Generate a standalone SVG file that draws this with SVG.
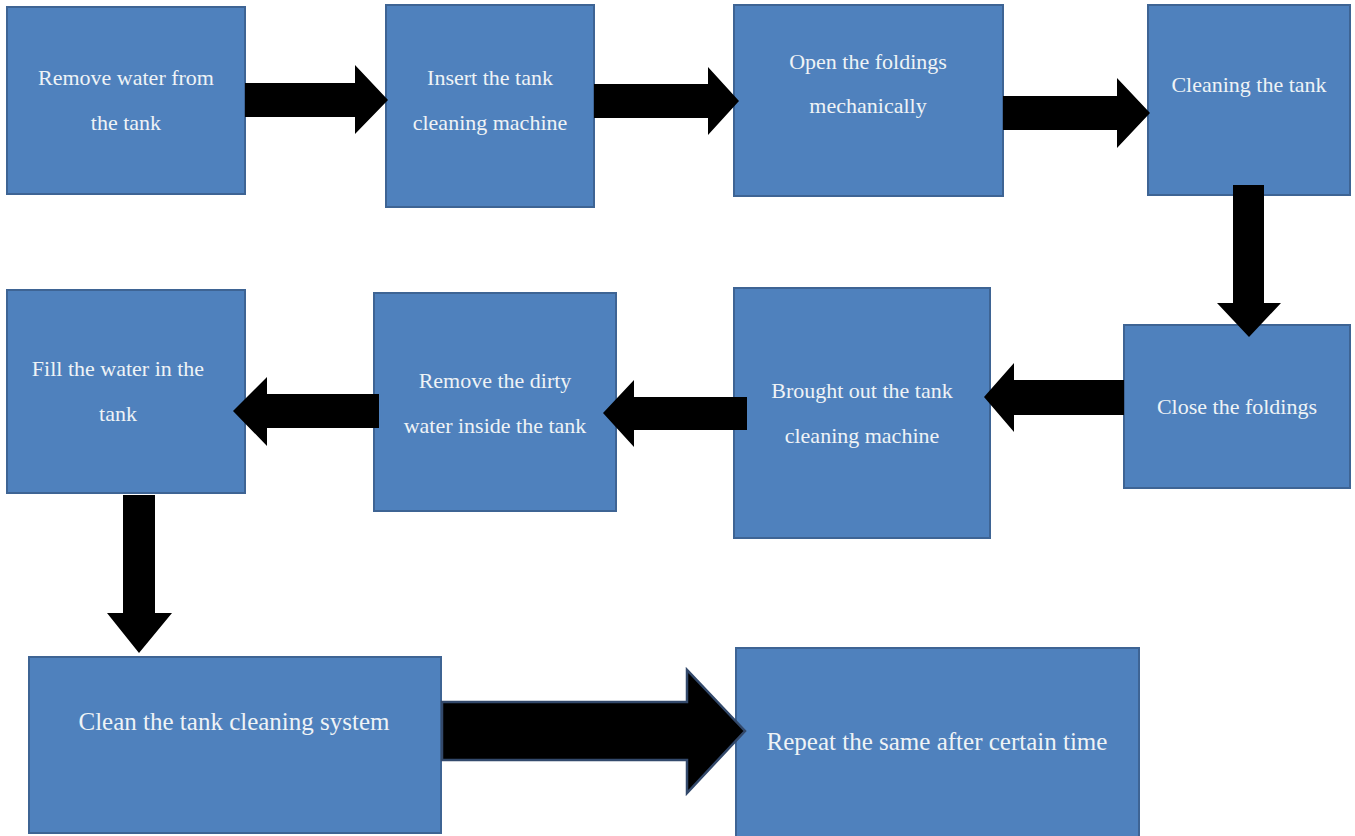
<svg xmlns="http://www.w3.org/2000/svg" width="1355" height="836" viewBox="0 0 1355 836">
<defs>
<style>
.box{fill:#4f81bd;stroke:#3e6494;stroke-width:2}
.t{font-family:"Liberation Serif","Times New Roman",serif;font-size:22px;fill:#eef3f6;text-anchor:middle}
.tb{font-size:25px}
.arr{fill:#000}
.arrb{fill:#000;stroke:#33496b;stroke-width:2.5;stroke-linejoin:miter}
</style>
</defs>
<rect width="1355" height="836" fill="#ffffff"/>
<g id="n1"><rect class="box" x="7" y="7" width="238" height="187"/><text class="t" x="126" y="85">Remove water from</text><text class="t" x="126" y="130">the tank</text></g>
<g id="n2"><rect class="box" x="386" y="5" width="208" height="202"/><text class="t" x="490" y="85">Insert the tank</text><text class="t" x="490" y="130">cleaning machine</text></g>
<g id="n3"><rect class="box" x="734" y="5" width="269" height="191"/><text class="t" x="868" y="69">Open the foldings</text><text class="t" x="868" y="113">mechanically</text></g>
<g id="n4"><rect class="box" x="1148" y="5" width="202" height="190"/><text class="t" x="1249" y="92">Cleaning the tank</text></g>
<g id="n5"><rect class="box" x="1124" y="325" width="226" height="163"/><text class="t" x="1237" y="414">Close the foldings</text></g>
<g id="n6"><rect class="box" x="734" y="288" width="256" height="250"/><text class="t" x="862" y="398">Brought out the tank</text><text class="t" x="862" y="443">cleaning machine</text></g>
<g id="n7"><rect class="box" x="374" y="293" width="242" height="218"/><text class="t" x="495" y="388">Remove the dirty</text><text class="t" x="495" y="433">water inside the tank</text></g>
<g id="n8"><rect class="box" x="7" y="290" width="238" height="203"/><text class="t" x="118" y="376">Fill the water in the</text><text class="t" x="118" y="421">tank</text></g>
<g id="n9"><rect class="box" x="29" y="657" width="412" height="176"/><text class="t tb" x="234" y="730">Clean the tank cleaning system</text></g>
<g id="n10"><rect class="box" x="736" y="648" width="403" height="195"/><text class="t tb" x="937" y="750">Repeat the same after certain time</text></g>
<g id="connectors">
<polygon class="arr" points="245,83 355,83 355,65 388,100 355,134 355,117 245,117"/>
<polygon class="arr" points="594,84 708,84 708,67 739,101 708,135 708,118 594,118"/>
<polygon class="arr" points="1003,96 1117,96 1117,78 1150,113 1117,148 1117,130 1003,130"/>
<polygon class="arr" points="1233,185 1264,185 1264,303 1281,303 1249,337 1217,303 1233,303"/>
<polygon class="arr" points="1124,380 1014,380 1014,363 984,397 1014,432 1014,415 1124,415"/>
<polygon class="arr" points="747,397 634,397 634,380 603,413 634,447 634,430 747,430"/>
<polygon class="arr" points="379,394 267,394 267,377 233,411 267,446 267,428 379,428"/>
<polygon class="arr" points="123,495 155,495 155,613 172,613 139,653 107,613 123,613"/>
<polygon class="arrb" points="442,702 687,702 687,670 745,731 687,793 687,760 442,760"/>
</g>
</svg>
